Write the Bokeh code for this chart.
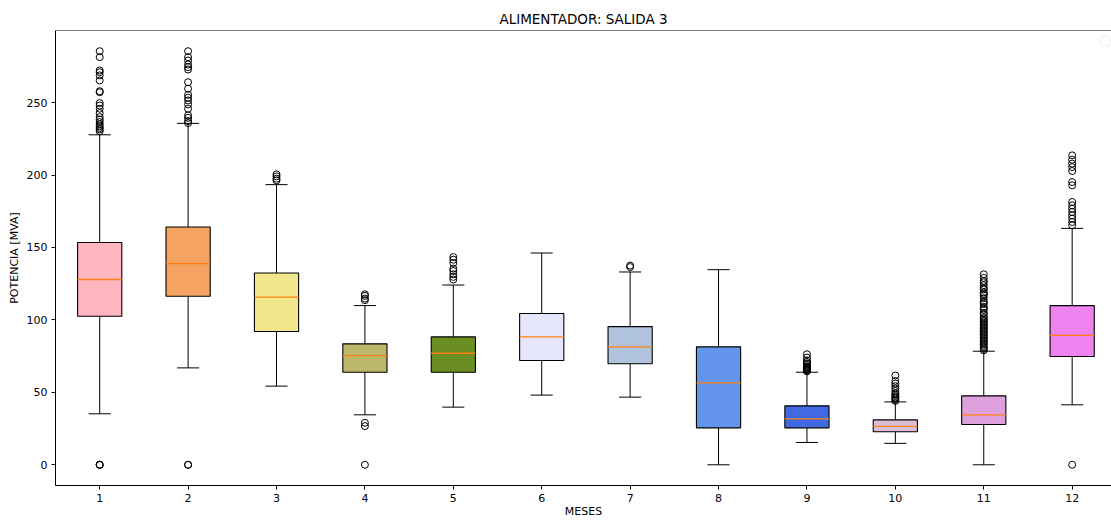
import numpy as np
from bokeh.plotting import figure
from bokeh.models import Range1d, Span, BoxAnnotation, FixedTicker
from bokeh.embed import file_html
from bokeh.resources import INLINE

months = [1, 2, 3, 4, 5, 6, 7, 8, 9, 10, 11, 12]
q1 = [102.5, 116.3, 92.0, 63.9, 63.9, 72.0, 69.7, 25.5, 25.5, 22.8, 27.8, 74.8]
medians = [127.9, 138.9, 115.7, 75.4, 77.0, 88.3, 81.4, 56.6, 31.7, 26.5, 34.5, 89.4]
q3 = [153.4, 164.1, 132.4, 83.5, 88.3, 104.4, 95.4, 81.4, 40.7, 31.0, 47.6, 109.9]
whisker_low = [35.2, 66.9, 54.3, 34.5, 39.8, 48.1, 46.7, 0.0, 15.4, 14.8, 0.0, 41.4]
whisker_high = [227.8, 235.7, 193.4, 109.9, 124.1, 146.2, 133.1, 134.7, 63.9, 43.4, 78.4, 163.2]
box_colors = ["#FFB6C1", "#F4A460", "#F0E68C", "#BDB76B", "#6B8E23", "#E6E6FA",
              "#B0C4DE", "#6495ED", "#4169E1", "#D8BFD8", "#DDA0DD", "#EE82EE"]

outliers = [
    [0, 0, 0, 230.3, 231.5, 232.5, 233.6, 235.0, 236.6, 238.2, 240.0, 242.8, 245.8,
     248.0, 249.7, 257.2, 257.9, 265.3, 268.8, 271.0, 272.2, 281.4, 285.5],
    [0, 0, 235.9, 237.3, 239.5, 241.2, 245.8, 248.8, 251.5, 253.4, 255.4, 259.6, 264.1,
     272.9, 274.5, 276.3, 279.1, 281.4, 285.5],
    [196.3, 197.5, 199.1, 200.5],
    [0, 26.7, 29.0, 113.6, 114.7, 116.6, 117.7],
    [127.9, 129.7, 131.5, 133.8, 135.4, 139.3, 141.6, 143.4],
    [],
    [136.5, 137.5],
    [],
    [64.5, 65.0, 65.5, 66.0, 66.5, 67.0, 67.5, 68.0, 69.0, 70.0, 71.0, 72.0, 74.0, 76.3],
    [44.1, 44.8, 45.8, 46.5, 47.4, 48.3, 49.2, 51.0, 52.7, 54.3, 56.1, 57.9, 61.6],
    [79.0, 80.0, 81.0, 82.0, 83.0, 84.0, 85.0, 86.0, 87.0, 88.0, 89.0, 90.0, 91.0, 92.0,
     93.0, 94.0, 95.0, 96.0, 97.0, 98.0, 99.0, 100.0, 101.0, 102.0, 104.0, 105.0, 107.0,
     108.0, 109.0, 111.0, 112.0, 113.0, 115.0, 117.0, 118.0, 119.0, 121.0, 122.0, 124.0,
     126.0, 127.0, 129.0, 131.5],
    [0, 165.3, 167.6, 169.9, 172.2, 174.5, 176.8, 179.1, 181.4, 192.9, 195.2, 202.8,
     205.5, 207.9, 210.6, 213.6],
]

title_text = "ALIMENTADOR: SALIDA 3"
x_label = "MESES"
y_label = "POTENCIA [MVA]"
y_ticks = [0, 50, 100, 150, 200, 250]

FONT = "DejaVu Sans"

p = figure(width=1111, height=520, output_backend="svg", toolbar_location=None,
           x_range=Range1d(0.5, 12.445), y_range=Range1d(-14.3, 299.8),
           min_border_left=55, min_border_right=0, min_border_top=30, min_border_bottom=35)
p.title.text = title_text
p.title.align = "center"
p.title.text_font = FONT
p.title.text_font_style = "normal"
p.title.text_font_size = "13.5px"
p.title.text_color = "black"
p.title.standoff = 7

p.outline_line_color = None
p.xgrid.visible = False
p.ygrid.visible = False
p.background_fill_color = "white"
p.border_fill_color = "white"

x = np.array(months, dtype=float)
hw = 0.25
cw = 0.125

# boxes
p.vbar(x=x, width=0.5, bottom=q1, top=q3, fill_color=box_colors,
       line_color="black", line_width=1.1)
# whiskers
p.segment(x0=x, x1=x, y0=q3, y1=whisker_high, line_color="black", line_width=1)
p.segment(x0=x, x1=x, y0=q1, y1=whisker_low, line_color="black", line_width=1)
# caps
p.segment(x0=x - cw, x1=x + cw, y0=whisker_high, y1=whisker_high, line_color="black", line_width=1)
p.segment(x0=x - cw, x1=x + cw, y0=whisker_low, y1=whisker_low, line_color="black", line_width=1)
# medians
p.segment(x0=x - hw, x1=x + hw, y0=medians, y1=medians, line_color="#ff7f0e", line_width=1.3)

# fliers
fx, fy = [], []
for m, vals in zip(months, outliers):
    fx.extend([m] * len(vals))
    fy.extend(vals)
p.scatter(x=fx, y=fy, marker="circle", size=7, fill_color=None,
          line_color="black", line_width=1)

# top spine
p.add_layout(Span(location=p.y_range.end, dimension="width", line_color="black", line_width=1))

# empty legend frame (top right)
xr, yr = p.x_range, p.y_range
p.add_layout(BoxAnnotation(left=xr.end - 0.125, right=xr.end - 0.015,
                           top=yr.end - 4.0, bottom=yr.end - 10.5,
                           fill_color="white", fill_alpha=1.0,
                           line_color="#cccccc", line_width=1, border_radius=2))

# axes
for ax in (p.xaxis[0], p.yaxis[0]):
    ax.axis_line_color = "black"
    ax.axis_line_width = 1
    ax.major_tick_line_color = "black"
    ax.major_tick_in = 0
    ax.major_tick_out = 4
    ax.minor_tick_line_color = None
    ax.major_label_text_font = FONT
    ax.major_label_text_font_size = "11px"
    ax.major_label_text_color = "black"
    ax.axis_label_text_font = FONT
    ax.axis_label_text_font_size = "11px"
    ax.axis_label_text_font_style = "normal"
    ax.axis_label_text_color = "black"

p.xaxis.ticker = FixedTicker(ticks=months)
p.yaxis.ticker = FixedTicker(ticks=y_ticks)
p.xaxis.axis_label = x_label
p.yaxis.axis_label = y_label
p.xaxis.major_label_standoff = 4
p.yaxis.major_label_standoff = 4
p.xaxis.axis_label_standoff = 0
p.yaxis.axis_label_standoff = 3

open("out.html", "w").write(file_html(p, INLINE))
